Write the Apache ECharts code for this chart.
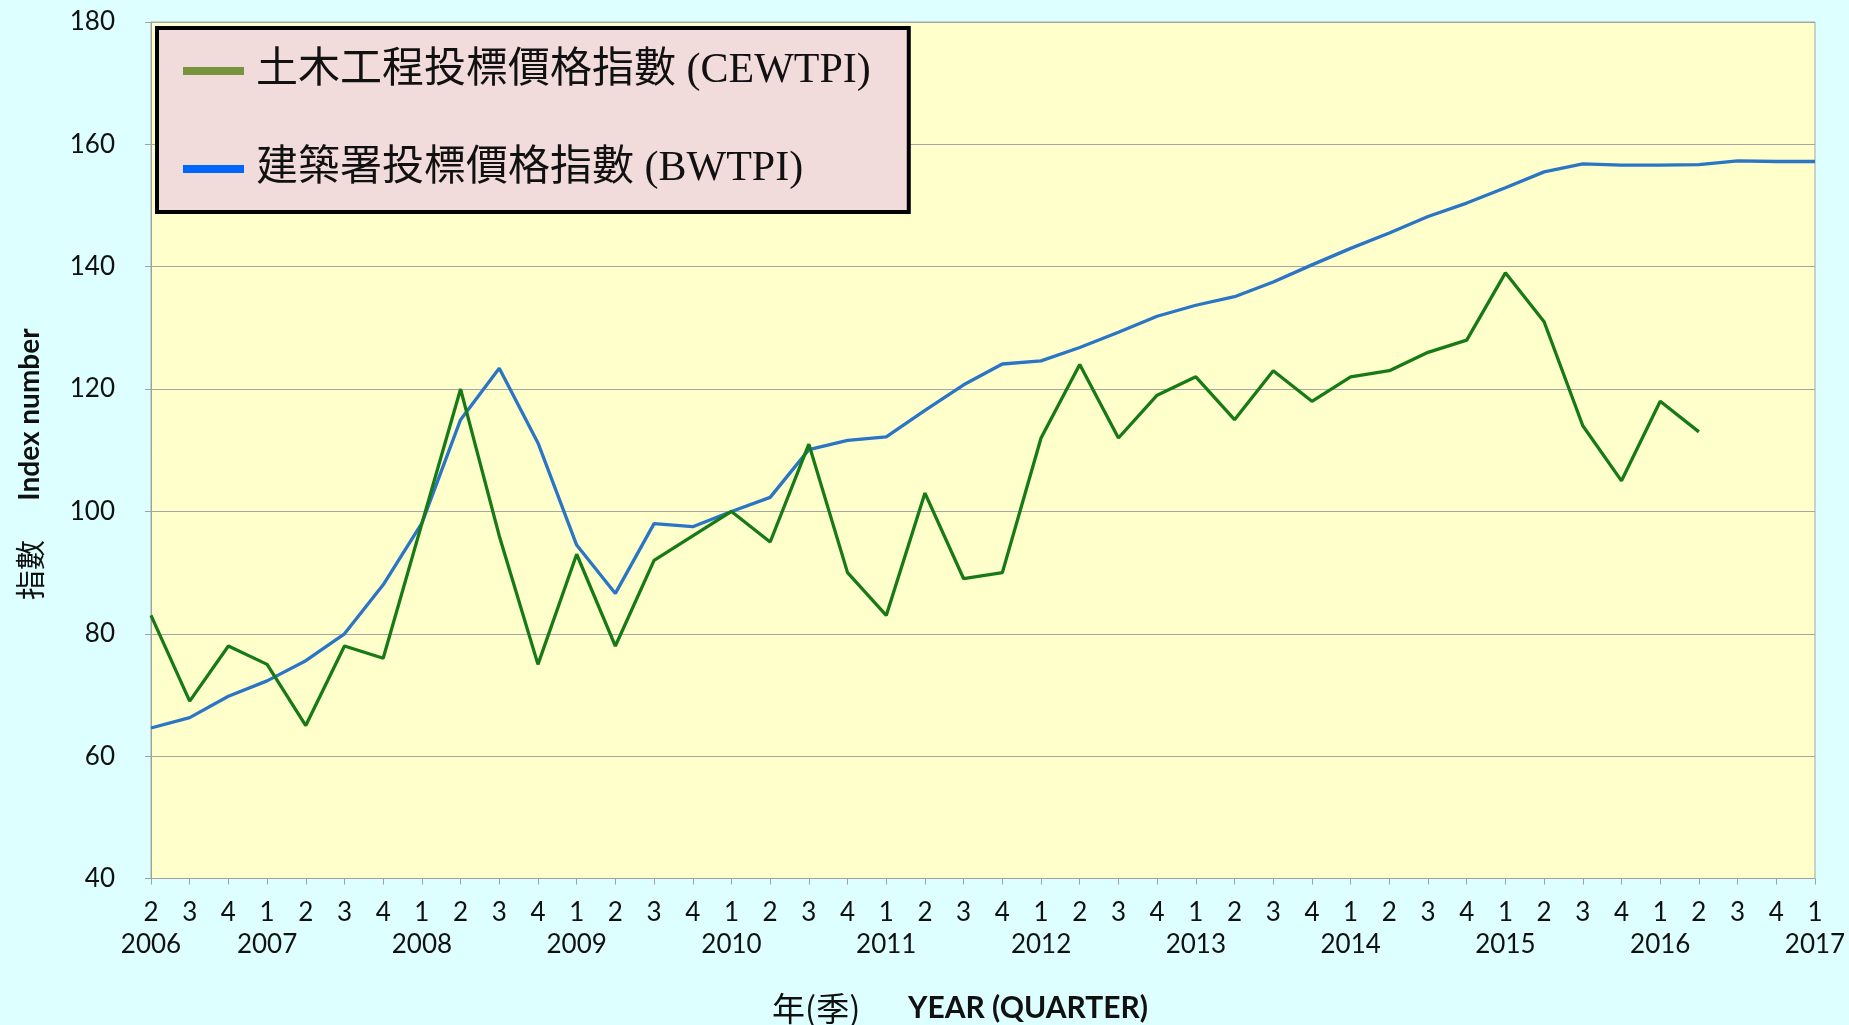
<!DOCTYPE html>
<html>
<head>
<meta charset="utf-8">
<script src="https://cdn.jsdelivr.net/npm/echarts@6/dist/echarts.min.js"></script>
<style>
html,body{margin:0;padding:0;background:#DDFFFF;}
#chart{width:1849px;height:1025px;}
</style>
</head>
<body>
<div id="chart"></div>
<script>
// Tick labels (quarter row and year row)
const quarterLabels = ['2','3','4','1','2','3','4','1','2','3','4','1','2','3','4','1','2','3','4','1','2','3','4','1','2','3','4','1','2','3','4','1','2','3','4','1','2','3','4','1','2','3','4','1'];
const yearLabels = ['2006','','','2007','','','','2008','','','','2009','','','','2010','','','','2011','','','','2012','','','','2013','','','','2014','','','','2015','','','','2016','','','','2017'];

// Series values
const cewtpi = [83,69,78,75,65,78,76,98,120,96,75,93,78,92,96,100,95,111,90,83,103,89,90,112,124,112,119,122,115,123,118,122,123,126,128,139,131,114,105,118,113,null,null,null];
const bwtpi = [64.6,66.3,69.8,72.3,75.6,80,88,98.1,115,123.4,111.2,94.5,86.6,98,97.5,100,102.3,110.1,111.6,112.2,116.5,120.7,124.1,124.6,126.8,129.3,131.9,133.7,135.1,137.5,140.3,143.0,145.5,148.2,150.4,152.9,155.5,156.8,156.6,156.6,156.7,157.3,157.2,157.2];

const seriesNames = ['土木工程投標價格指數 (CEWTPI)', '建築署投標價格指數 (BWTPI)'];
const yTicks = {min: 40, max: 180, interval: 20};

const categories = quarterLabels.map((q, i) => yearLabels[i] ? q + '\n' + yearLabels[i] : q);

const chart = echarts.init(document.getElementById('chart'));
const option = {
  animation: false,
  backgroundColor: '#DDFFFF',
  grid: {
    left: 151, right: 34, top: 22, bottom: 146.5,
    show: true, backgroundColor: '#FFFFCC', borderColor: '#A6A6A6', borderWidth: 1
  },
  legend: {
    orient: 'vertical',
    left: 157, top: 28,
    selectedMode: false,
    icon: 'rect',
    itemWidth: 61, itemHeight: 8, itemGap: 48,
    padding: [18, 38, 18, 26],
    backgroundColor: '#F2DCDB',
    borderColor: '#000000', borderWidth: 4,
    textStyle: {
      fontSize: 42, lineHeight: 50, color: '#111111',
      fontFamily: "'Liberation Serif', 'Noto Sans CJK TC', serif",
      padding: [0, 0, 0, 7]
    },
    data: [
      {name: seriesNames[0], itemStyle: {color: '#77933C'}},
      {name: seriesNames[1], itemStyle: {color: '#0066FF'}}
    ]
  },
  xAxis: {
    type: 'category',
    data: categories,
    boundaryGap: false,
    axisLine: {lineStyle: {color: '#A0A0A0', width: 1}},
    axisTick: {show: true, length: 6, inside: false, lineStyle: {color: '#A0A0A0'}, interval: 0},
    axisLabel: {
      interval: 0, margin: 18, fontSize: 26, lineHeight: 32, color: '#111111',
      fontFamily: "Lato, 'Open Sans', sans-serif"
    },
    splitLine: {show: false}
  },
  yAxis: {
    type: 'value',
    min: yTicks.min, max: yTicks.max, interval: yTicks.interval,
    axisLine: {show: true, lineStyle: {color: '#A0A0A0', width: 1}},
    axisTick: {show: true, length: 6, lineStyle: {color: '#A0A0A0'}},
    axisLabel: {margin: 36, fontSize: 26, color: '#111111', fontFamily: "Lato, 'Open Sans', sans-serif"},
    splitLine: {show: true, lineStyle: {color: '#A6A6A6', width: 1}}
  },
  series: [
    {
      name: seriesNames[0], type: 'line', data: cewtpi, showSymbol: false, symbol: 'none',
      connectNulls: false,
      itemStyle: {color: '#177A17'},
      lineStyle: {color: '#177A17', width: 3.3}, z: 3
    },
    {
      name: seriesNames[1], type: 'line', data: bwtpi, showSymbol: false, symbol: 'none',
      itemStyle: {color: '#2A75C4'},
      lineStyle: {color: '#2A75C4', width: 3.3}, z: 2
    }
  ],
  graphic: [
    {type: 'text', x: 29.5, y: 414.5, rotation: Math.PI / 2,
     style: {text: 'Index number', fontSize: 28, fontWeight: 'bold', fontFamily: "Lato, 'Open Sans', sans-serif",
             fill: '#111111', align: 'center', verticalAlign: 'middle'}},
    {type: 'text', x: 29.5, y: 570, rotation: Math.PI / 2,
     style: {text: '指數', fontSize: 30, fontFamily: "'Noto Sans CJK TC', sans-serif",
             fill: '#111111', align: 'center', verticalAlign: 'middle'}},
    {type: 'text', x: 772, y: 1008,
     style: {text: '年(季)', fontSize: 33, fontFamily: "'Noto Sans CJK TC', sans-serif",
             fill: '#111111', align: 'left', verticalAlign: 'middle'}},
    {type: 'text', x: 908, y: 1008,
     style: {text: 'YEAR (QUARTER)', fontSize: 30, fontWeight: 'bold', fontFamily: "Lato, 'Open Sans', sans-serif",
             fill: '#111111', align: 'left', verticalAlign: 'middle'}}
  ]
};
chart.setOption(option);
</script>
</body>
</html>
